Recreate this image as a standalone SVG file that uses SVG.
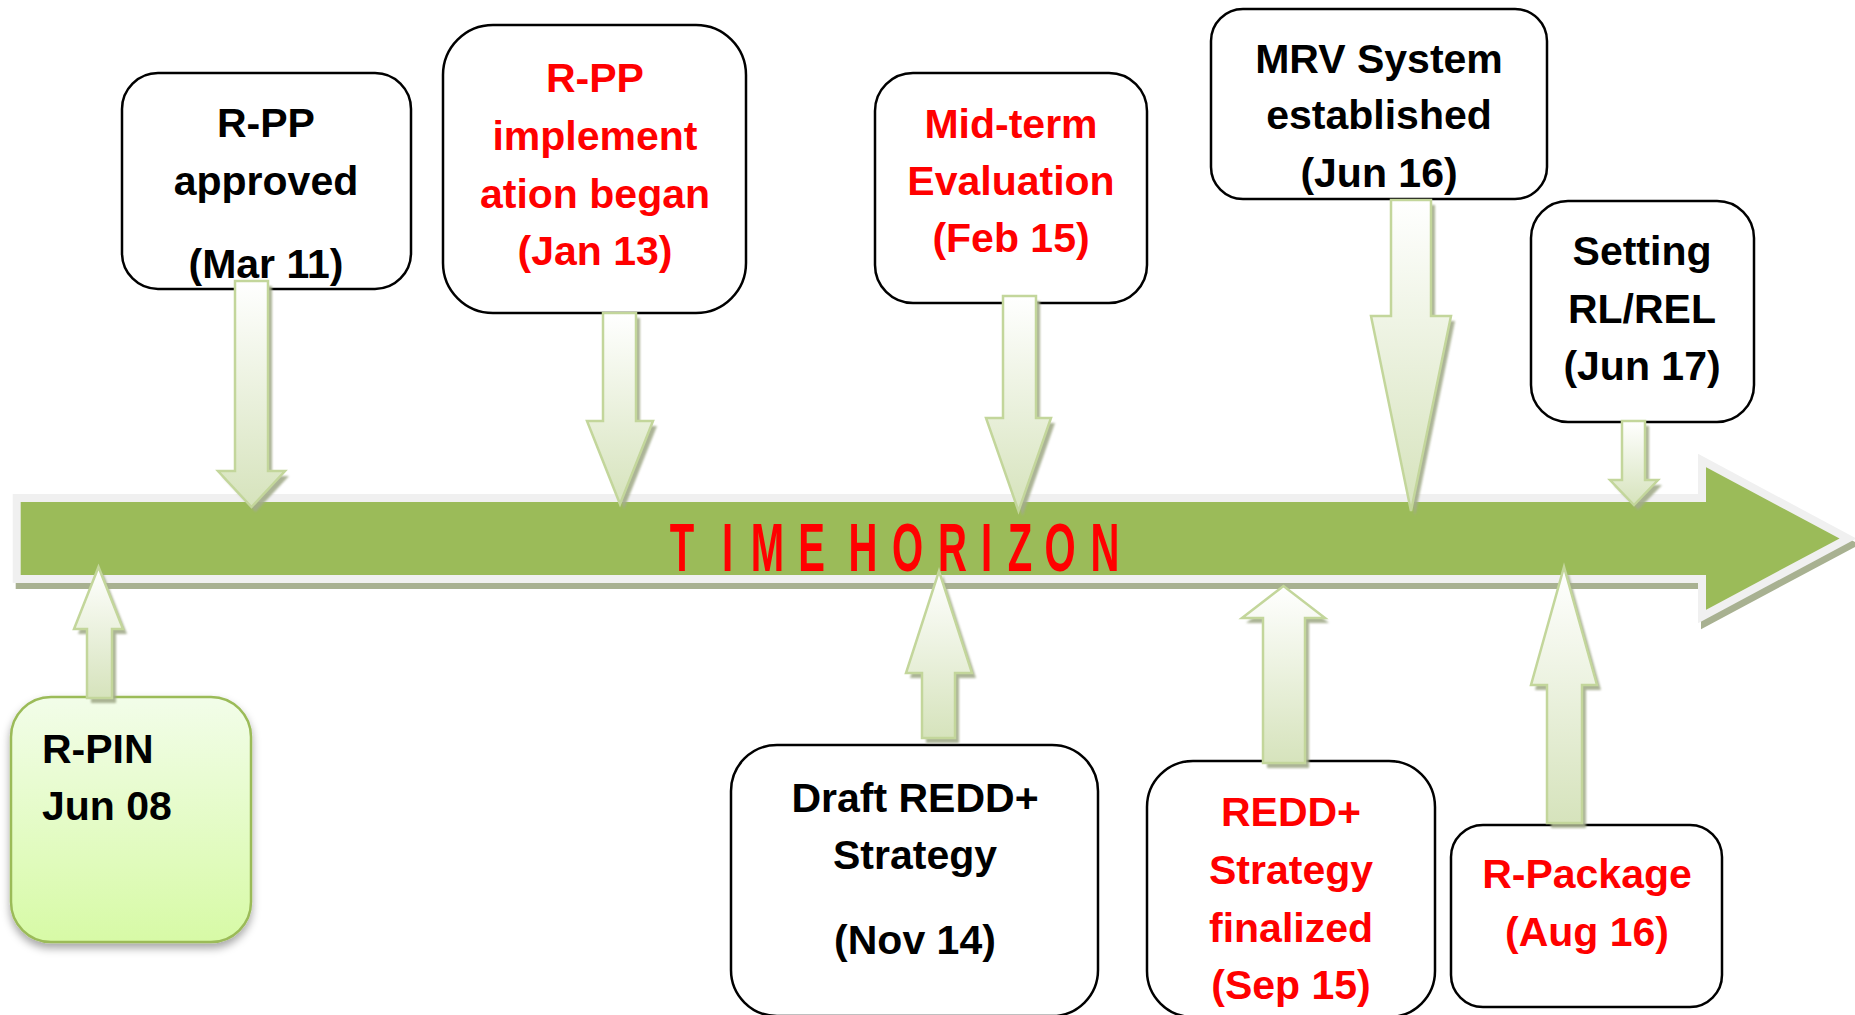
<svg xmlns="http://www.w3.org/2000/svg" width="1855" height="1015" viewBox="0 0 1855 1015">
<defs>
<linearGradient id="conn" x1="0" y1="0" x2="0" y2="1">
<stop offset="0" stop-color="#ffffff"/>
<stop offset="1" stop-color="#d6e3bc"/>
</linearGradient>
<linearGradient id="pin" x1="0" y1="0" x2="0" y2="1">
<stop offset="0" stop-color="#f2fde9"/>
<stop offset="1" stop-color="#d7faa6"/>
</linearGradient>
<filter id="sblur" x="-20%" y="-20%" width="140%" height="140%">
<feGaussianBlur stdDeviation="1"/>
</filter>
<filter id="pinshadow" x="-20%" y="-20%" width="140%" height="140%">
<feDropShadow dx="0" dy="5" stdDeviation="4" flood-color="#000" flood-opacity="0.35"/>
</filter>
<style>
.box{fill:#fff;stroke:#000;stroke-width:2.5}
.t{font-family:"Liberation Sans",Arial,sans-serif;font-weight:bold;font-size:41px;text-anchor:middle}
.blk{fill:#000}
.red{fill:#ff0000}
.arr{fill:url(#conn);stroke:#c3d69b;stroke-width:2.5;stroke-linejoin:miter}
.sh{fill:#a3ac8b;opacity:0.9;filter:url(#sblur)}
.th{font-family:"Liberation Sans",Arial,sans-serif;font-weight:bold;font-size:69px;fill:#ff0000;text-anchor:middle}
</style>
</defs>

<g id="timeline">
<path d="M16.7,498 H1702 V460.5 L1848,538.5 L1702,616.5 V579 H16.7 Z" transform="translate(3,6)" fill="#a8b191" stroke="#a8b191" stroke-width="8"/>
<path d="M16.7,498 H1702 V460.5 L1848,538.5 L1702,616.5 V579 H16.7 Z" fill="#9bbb59" stroke="#f0f0f0" stroke-width="8"/>
</g>

<g id="n-rpin">
<rect x="11" y="697" width="240" height="245" rx="40" fill="url(#pin)" stroke="#9bbb59" stroke-width="2.5" filter="url(#pinshadow)"/>
<text class="t blk" style="text-anchor:start" x="42" y="763">R-PIN</text>
<text class="t blk" style="text-anchor:start" x="42" y="820">Jun 08</text>
</g>

<g id="n-rpp-approved">
<rect class="box" x="122" y="73" width="289" height="216" rx="36"/>
<text class="t blk" x="266" y="137">R-PP</text>
<text class="t blk" x="266" y="195">approved</text>
<text class="t blk" x="266" y="278">(Mar 11)</text>
</g>

<g id="n-rpp-impl">
<rect class="box" x="443" y="25" width="303" height="288" rx="50"/>
<text class="t red" x="595" y="92">R-PP</text>
<text class="t red" x="595" y="150">implement</text>
<text class="t red" x="595" y="208">ation began</text>
<text class="t red" x="595" y="265">(Jan 13)</text>
</g>

<g id="n-midterm">
<rect class="box" x="875" y="73" width="272" height="230" rx="38"/>
<text class="t red" x="1011" y="138">Mid-term</text>
<text class="t red" x="1011" y="195">Evaluation</text>
<text class="t red" x="1011" y="252">(Feb 15)</text>
</g>

<g id="n-mrv">
<rect class="box" x="1211" y="9" width="336" height="190" rx="32"/>
<text class="t blk" x="1379" y="73">MRV System</text>
<text class="t blk" x="1379" y="129">established</text>
<text class="t blk" x="1379" y="187">(Jun 16)</text>
</g>

<g id="n-setting">
<rect class="box" x="1531" y="201" width="223" height="221" rx="37"/>
<text class="t blk" x="1642" y="265">Setting</text>
<text class="t blk" x="1642" y="323">RL/REL</text>
<text class="t blk" x="1642" y="380">(Jun 17)</text>
</g>

<g id="n-draft">
<rect class="box" x="731" y="745" width="367" height="271" rx="46"/>
<text class="t blk" x="915" y="812">Draft REDD+</text>
<text class="t blk" x="915" y="869">Strategy</text>
<text class="t blk" x="915" y="954">(Nov 14)</text>
</g>

<g id="n-redd-final">
<rect class="box" x="1147" y="761" width="288" height="256" rx="46"/>
<text class="t red" x="1291" y="826">REDD+</text>
<text class="t red" x="1291" y="884">Strategy</text>
<text class="t red" x="1291" y="942">finalized</text>
<text class="t red" x="1291" y="999">(Sep 15)</text>
</g>

<g id="n-rpackage">
<rect class="box" x="1451" y="825" width="271" height="182" rx="32"/>
<text class="t red" x="1587" y="888">R-Package</text>
<text class="t red" x="1587" y="946">(Aug 16)</text>
</g>

<g id="connectors">
<g transform="translate(4,5)">
<path class="sh" d="M235,281 H268 V471 H285 L251.5,507 L218,471 H235 Z"/>
<path class="sh" d="M603,313 H636 V421 H653 L620,504 L587,421 H603 Z"/>
<path class="sh" d="M1003,296 H1036 V418 H1051 L1018.5,511 L986,418 H1003 Z"/>
<path class="sh" d="M1391,200 H1431 V316 H1451 L1411,511 L1371,316 H1391 Z"/>
<path class="sh" d="M1622,421 H1645 V480 H1658 L1634,505 L1610,480 H1622 Z"/>
<path class="sh" d="M87,698 V629 H74 L98.5,567 L123,629 H112 V698 Z"/>
<path class="sh" d="M922,738 V673 H906 L939,571 L972,673 H955 V738 Z"/>
<path class="sh" d="M1263,763 V618 H1242 L1283.5,586 L1325,618 H1305 V763 Z"/>
<path class="sh" d="M1547,823 V685 H1531 L1564,567 L1597,685 H1582 V823 Z"/>
</g>
<path class="arr" d="M235,281 H268 V471 H285 L251.5,507 L218,471 H235 Z"/>
<path class="arr" d="M603,313 H636 V421 H653 L620,504 L587,421 H603 Z"/>
<path class="arr" d="M1003,296 H1036 V418 H1051 L1018.5,511 L986,418 H1003 Z"/>
<path class="arr" d="M1391,200 H1431 V316 H1451 L1411,511 L1371,316 H1391 Z"/>
<path class="arr" d="M1622,421 H1645 V480 H1658 L1634,505 L1610,480 H1622 Z"/>
<path class="arr" d="M87,698 V629 H74 L98.5,567 L123,629 H112 V698 Z"/>
<path class="arr" d="M922,738 V673 H906 L939,571 L972,673 H955 V738 Z"/>
<path class="arr" d="M1263,763 V618 H1242 L1283.5,586 L1325,618 H1305 V763 Z"/>
<path class="arr" d="M1547,823 V685 H1531 L1564,567 L1597,685 H1582 V823 Z"/>
</g>

<g id="title" transform="scale(0.58,1)">
<text class="th" x="1175.9 1254.3 1323.3 1399.1 1487.9 1564.7 1642.2 1700.9 1758.6 1827.6 1905.2" y="571">TIMEHORIZON</text>
</g>
</svg>
